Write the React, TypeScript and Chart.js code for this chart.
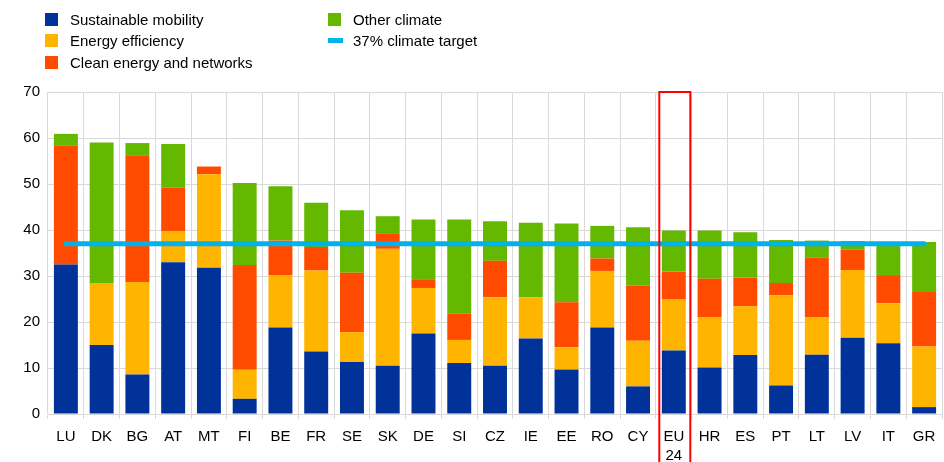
import React, { useEffect, useRef } from "react";
import { Chart, registerables } from "chart.js";

Chart.register(...registerables);

const categories: (string | string[])[] = [
  "LU", "DK", "BG", "AT", "MT", "FI", "BE", "FR", "SE", "SK", "DE", "SI", "CZ",
  "IE", "EE", "RO", "CY", ["EU", "24"], "HR", "ES", "PT", "LT", "LV", "IT", "GR",
];

const sustainableMobility = [32.5, 15.0, 8.6, 33.0, 31.8, 3.3, 18.8, 13.6, 11.3, 10.5, 17.5, 11.1, 10.5, 16.4, 9.7, 18.8, 6.0, 13.8, 10.1, 12.8, 6.2, 12.9, 16.6, 15.4, 1.5];
const energyEfficiency = [0, 13.5, 20.1, 6.8, 20.3, 6.3, 11.4, 17.6, 6.5, 25.4, 9.9, 5.0, 14.9, 9.0, 4.8, 12.3, 9.9, 11.2, 11.0, 10.6, 19.6, 8.1, 14.7, 8.7, 13.2];
const cleanEnergy = [25.8, 0, 27.4, 9.4, 1.7, 22.8, 7.5, 5.1, 12.9, 3.4, 1.9, 5.7, 7.9, 0, 9.8, 2.7, 12.0, 5.9, 8.3, 6.2, 2.7, 13.1, 4.4, 6.1, 11.8];
const otherClimate = [2.6, 30.5, 2.8, 9.5, 0, 17.8, 11.8, 9.6, 13.6, 3.7, 13.0, 20.5, 8.6, 16.2, 17.1, 7.1, 12.7, 9.0, 10.5, 9.9, 9.3, 3.6, 1.9, 6.8, 10.9];
const climateTarget = 37;

const yTicks = [0, 10, 20, 30, 40, 50, 60, 70];
const highlightIndex = 17;

const FONT = "'Liberation Sans', Arial, sans-serif";

const legendItems = [
  { label: "Sustainable mobility", color: "#003299", kind: "box", x: 45, y: 19 },
  { label: "Energy efficiency", color: "#ffb400", kind: "box", x: 45, y: 40.5 },
  { label: "Clean energy and networks", color: "#ff4b00", kind: "box", x: 45, y: 62 },
  { label: "Other climate", color: "#65b800", kind: "box", x: 328, y: 19 },
  { label: "37% climate target", color: "#00b1ea", kind: "line", x: 328, y: 40.5 },
];

const highlightPlugin = {
  id: "highlightBox",
  afterDraw(chart: any) {
    const x = chart.scales.x;
    const ctx = chart.ctx;
    const cx = x.getPixelForValue(highlightIndex);
    const half = 15.5;
    ctx.save();
    ctx.strokeStyle = "#ff0000";
    ctx.lineWidth = 2;
    ctx.strokeRect(cx - half + 1, chart.chartArea.top, half * 2, chart.height - chart.chartArea.top + 5);
    ctx.restore();
  },
};

export default function App() {
  const ref = useRef<HTMLCanvasElement>(null);
  useEffect(() => {
    if (!ref.current) return;
    const chart = new Chart(ref.current, {
      type: "bar",
      data: {
        labels: categories as any,
        datasets: [
          { type: "line", label: "37% climate target", data: categories.map(() => climateTarget), borderColor: "#00b1ea", borderWidth: 5, pointRadius: 0, borderCapStyle: "round", stack: "target", order: 0 } as any,
          { label: "Sustainable mobility", data: sustainableMobility, backgroundColor: "#003299", stack: "s", order: 1 },
          { label: "Energy efficiency", data: energyEfficiency, backgroundColor: "#ffb400", stack: "s", order: 1 },
          { label: "Clean energy and networks", data: cleanEnergy, backgroundColor: "#ff4b00", stack: "s", order: 1 },
          { label: "Other climate", data: otherClimate, backgroundColor: "#65b800", stack: "s", order: 1 },
        ],
      },
      options: {
        animation: false,
        responsive: false,
        maintainAspectRatio: false,
        datasets: { bar: { barPercentage: 0.67, categoryPercentage: 1, borderWidth: 0 } } as any,
        layout: { padding: { top: 92, right: 2, left: 0, bottom: 0 } },
        plugins: { legend: { display: false }, tooltip: { enabled: false } },
        scales: {
          x: {
            stacked: true,
            grid: { offset: true, color: "#d9d9d9", lineWidth: 1, tickLength: 5, drawTicks: true },
            border: { color: "#d9d9d9" },
            ticks: { color: "#000", font: { family: FONT, size: 15, lineHeight: 1.3 }, padding: 8, maxRotation: 0, autoSkip: false },
            afterFit(scale: any) { scale.height = 48; },
          },
          y: {
            stacked: true,
            min: 0,
            max: 70,
            afterBuildTicks(scale: any) { scale.ticks = yTicks.map((v) => ({ value: v })); },
            grid: { color: "#d9d9d9", lineWidth: 1, drawTicks: false },
            border: { display: false },
            ticks: { color: "#000", font: { family: FONT, size: 15 }, padding: 8 },
            afterFit(scale: any) { scale.width = 48; },
          },
        },
      },
      plugins: [highlightPlugin],
    });
    return () => chart.destroy();
  }, []);

  return (
    <div style={{ position: "fixed", left: 0, top: 0, width: 944, height: 462, background: "#fff", fontFamily: FONT }}>
      <canvas ref={ref} width={944} height={462} style={{ position: "absolute", left: 0, top: 0 }} />
      {legendItems.map((it) => (
        <div key={it.label} style={{ position: "absolute", left: it.x, top: it.y - 10, height: 20, display: "flex", alignItems: "center", fontSize: 15, color: "#000", whiteSpace: "nowrap" }}>
          {it.kind === "box" ? (
            <span style={{ display: "inline-block", width: 13, height: 13, background: it.color, marginRight: 12 }} />
          ) : (
            <span style={{ display: "inline-block", width: 15, height: 5, background: it.color, marginRight: 10 }} />
          )}
          <span>{it.label}</span>
        </div>
      ))}
    </div>
  );
}
